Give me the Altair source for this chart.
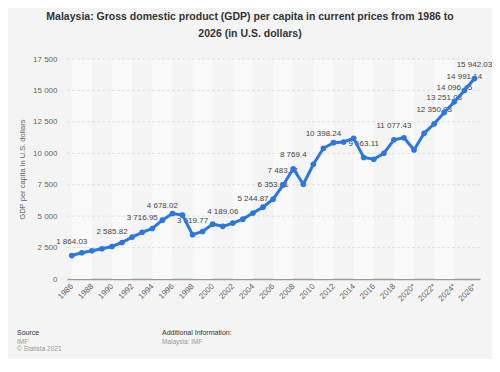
import altair as alt
import pandas as pd

years = list(range(1986, 2027))
gdp = [1864.03, 2088, 2246, 2405, 2585.82, 2905, 3333, 3716.95, 4017, 4678.02,
       5207, 5080, 3519.77, 3778, 4365, 4189.06, 4445, 4762, 5244.87, 5715,
       6353.01, 7483.41, 8769.4, 7540, 9128, 10398.24, 10842, 10898, 11191, 9663.11,
       9524, 10000, 11077.43, 11239, 10262, 11588, 12350.93, 13251.03, 14096.45, 14991.14,
       15942.03]
labeled_years = [1986, 1990, 1993, 1995, 1998, 2001, 2004, 2006, 2007, 2008, 2011,
                 2015, 2018, 2022, 2023, 2024, 2025, 2026]
x_ticks = list(range(1986, 2027, 2))
y_ticks = list(range(0, 17501, 2500))
band_starts = list(range(1986, 2026, 4))

title_lines = ["Malaysia: Gross domestic product (GDP) per capita in current prices from 1986 to",
               "2026 (in U.S. dollars)"]
y_title = "GDP per capita in U.S. dollars"

df = pd.DataFrame({"year": years, "gdp": gdp})
lab = df[df["year"].isin(labeled_years)].copy()


def fmt(v):
    s = f"{v:,.2f}".replace(",", " ")
    if "." in s:
        s = s.rstrip("0").rstrip(".")
    return s


lab["label"] = [fmt(v) for v in lab["gdp"]]

FONT = "Liberation Sans"
BLUE = "#2a77e0"

xscale = alt.Scale(domain=[1985.53, 2026.55], nice=False, zero=False)
yscale = alt.Scale(domain=[0, 17500], nice=False)

xaxis = alt.Axis(values=x_ticks, title=None, labelAngle=-45, labelAlign="right",
                 labelBaseline="middle", labelPadding=6, labelFontSize=8, labelColor="#666",
                 labelFont=FONT, ticks=False, grid=False, domainColor="#9a9a9a", domainWidth=1.3,
                 labelOverlap=False,
                 labelExpr="datum.value >= 2020 ? toString(datum.value) + '*' : toString(datum.value)")
yaxis = alt.Axis(values=y_ticks, title=y_title, labelFontSize=8, labelColor="#666", labelFont=FONT,
                 labelPadding=10, ticks=False, domain=False, grid=False,
                 titleFontSize=7.5, titleColor="#666", titleFont=FONT, titleFontWeight="normal",
                 titlePadding=6,
                 labelExpr="replace(format(datum.value, ','), regexp(',', 'g'), ' ')")

bands = alt.Chart(pd.DataFrame({"start": band_starts})).transform_calculate(
    end="datum.start + 2").mark_rect(color="#f9f9f9").encode(
    x=alt.X("start:Q", scale=xscale, axis=xaxis), x2="end:Q")

grid = alt.Chart(pd.DataFrame({"v": y_ticks[1:]})).mark_rule(
    color="#dcdcdc", strokeDash=[3, 2], strokeWidth=0.8).encode(
    y=alt.Y("v:Q", scale=yscale, axis=yaxis))

labels = alt.Chart(lab).transform_calculate(
    off="datum.year == 1986 ? 8 : datum.year == 2026 ? -7 : datum.year == 2025 ? -3 : 0"
).mark_text(dy=-14, fontSize=8, color="#444", font=FONT).encode(
    x=alt.X("year:Q", scale=xscale, axis=xaxis),
    xOffset=alt.XOffset("off:Q", scale=None),
    y=alt.Y("gdp:Q", scale=yscale, axis=yaxis),
    text="label:N")

line = alt.Chart(df).mark_line(color=BLUE, strokeWidth=3).encode(
    x=alt.X("year:Q", scale=xscale, axis=xaxis),
    y=alt.Y("gdp:Q", scale=yscale, axis=yaxis))

points = alt.Chart(df).mark_circle(color=BLUE, size=32, opacity=1).encode(
    x=alt.X("year:Q", scale=xscale, axis=xaxis),
    y=alt.Y("gdp:Q", scale=yscale, axis=yaxis))

# Title and footer texts (plot origin is at page x=67, y=59)
t1 = alt.Chart(pd.DataFrame({"t": [title_lines[0]]})).mark_text(
    fontSize=10.5, fontWeight="bold", color="#333", font=FONT, align="center", baseline="middle").encode(
    text="t:N", x=alt.value(183), y=alt.value(-42))
t2 = alt.Chart(pd.DataFrame({"t": [title_lines[1]]})).mark_text(
    fontSize=10.5, fontWeight="bold", color="#333", font=FONT, align="center", baseline="middle").encode(
    text="t:N", x=alt.value(183), y=alt.value(-25))

src_h = alt.Chart(pd.DataFrame({"t": ["Source"]})).mark_text(
    fontSize=7, color="#333", font=FONT, align="left", baseline="middle").encode(
    text="t:N", x=alt.value(-50), y=alt.value(274))
src_1 = alt.Chart(pd.DataFrame({"t": ["IMF"]})).mark_text(
    fontSize=6.5, color="#999", font=FONT, align="left", baseline="middle").encode(
    text="t:N", x=alt.value(-50), y=alt.value(282.5))
src_2 = alt.Chart(pd.DataFrame({"t": ["© Statista 2021"]})).mark_text(
    fontSize=6.5, color="#999", font=FONT, align="left", baseline="middle").encode(
    text="t:N", x=alt.value(-50), y=alt.value(290))
add_h = alt.Chart(pd.DataFrame({"t": ["Additional Information:"]})).mark_text(
    fontSize=7, color="#333", font=FONT, align="left", baseline="middle").encode(
    text="t:N", x=alt.value(95), y=alt.value(274))
add_1 = alt.Chart(pd.DataFrame({"t": ["Malaysia: IMF"]})).mark_text(
    fontSize=6.5, color="#999", font=FONT, align="left", baseline="middle").encode(
    text="t:N", x=alt.value(95), y=alt.value(282.5))

chart = alt.layer(bands, grid, labels, line, points, t1, t2, src_h, src_1, src_2, add_h, add_1).properties(
    width=413, height=220,
    padding={"left": 59, "top": 51, "right": 12, "bottom": 80},
    autosize=alt.AutoSizeParams(type="none"),
    background="#f4f4f4",
).configure_view(stroke=None)

chart.save("out.html", embed_options={"renderer": "svg", "actions": False})
